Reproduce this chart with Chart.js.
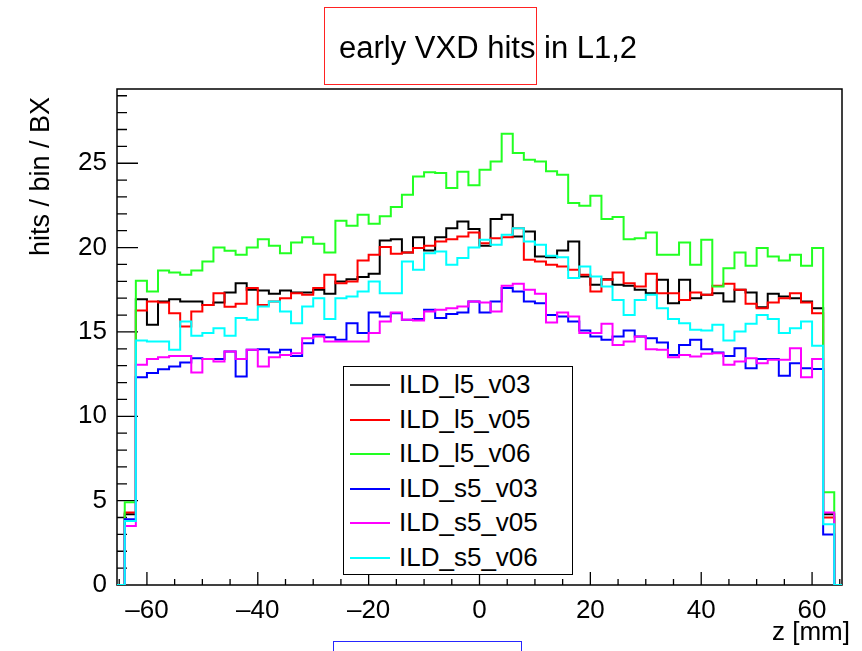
<!DOCTYPE html>
<html>
<head>
<meta charset="utf-8">
<script src="https://cdn.jsdelivr.net/npm/chart.js@4.4.1/dist/chart.umd.min.js"></script>
<style>
  html, body { margin: 0; padding: 0; background: #fff; }
  #wrap { position: relative; width: 862px; height: 651px; overflow: hidden; font-family: "Liberation Sans", Arial, sans-serif; color: #000; }
  #chart { position: absolute; left: 0; top: 0; }
  .txt { position: absolute; white-space: nowrap; line-height: 1; }
  #title { left: 339px; top: 32px; font-size: 31px; }
  #ytitle { left: 27px; top: 90px; font-size: 27px; transform-origin: 0 0; transform: translate(0, 166px) rotate(-90deg); }
  #xtitle { right: 12px; top: 618px; font-size: 26px; }
  #legend { position: absolute; left: 343px; top: 366px; width: 228px; height: 207px; border: 1.5px solid #000; background: #fff; }
  .row { position: absolute; left: 0; height: 34px; width: 100%; }
  .row .ln { position: absolute; left: 6px; top: 16px; width: 40px; height: 2px; }
  .row .lb { position: absolute; left: 55px; top: 3px; font-size: 26px; line-height: 1; }
  #redbox { position: absolute; left: 324px; top: 7px; width: 211px; height: 76px; border: 1px solid #f22; }
  #bluebox { position: absolute; left: 333px; top: 641px; width: 187px; height: 30px; border: 1px solid #2626ff; }
</style>
</head>
<body>
<div id="wrap">
  <canvas id="chart" width="862" height="651"></canvas>
  <div id="title" class="txt">early VXD hits in L1,2</div>
  <div id="ytitle" class="txt">hits / bin / BX</div>
  <div id="xtitle" class="txt">z [mm]</div>
  <div id="legend"></div>
  <div id="redbox"></div>
  <div id="bluebox"></div>
</div>
<script>
// Static data: 64 bins of 2 mm, first bin starts at -64 mm
const binStart = -64;
const binWidth = 2;

const ild_l5_v03 = [4.2, 16.94, 15.42, 16.8, 16.94, 16.8, 16.8, 16.6, 16.75, 17.34,
  17.89, 17.5, 17.46, 17.26, 17.46, 17.34, 17.34, 17.5, 17.26, 17.99,
  18.13, 18.25, 18.45, 20.42, 20.5, 19.71, 20.62, 19.83, 20.62, 21.15,
  21.55, 21.1, 20.11, 21.69, 21.95, 20.66, 20.96, 19.47, 19.43, 19.83,
  20.36, 18.29, 17.79, 18.13, 17.79, 17.74, 17.5, 17.3, 18.09, 16.7,
  18.09, 17.0, 17.2, 17.3, 16.8, 17.5, 17.34, 16.47, 17.26, 17.1,
  17.0, 16.8, 16.41, 4.2];

const ild_l5_v05 = [4.3, 16.27, 16.8, 16.74, 16.11, 15.32, 16.21, 16.6, 17.3, 16.5,
  16.67, 17.6, 16.6, 16.8, 17.0, 17.3, 17.2, 17.6, 18.39, 17.89,
  17.99, 19.24, 19.57, 20.03, 19.63, 19.71, 19.97, 20.11, 20.36, 20.5,
  20.66, 20.9, 20.26, 20.56, 20.62, 21.15, 19.28, 19.18, 18.98, 18.88,
  18.68, 18.39, 17.4, 18.09, 18.53, 17.89, 17.69, 18.45, 17.3, 17.3,
  16.9, 17.34, 17.2, 17.74, 17.86, 17.5, 16.67, 16.41, 16.74, 17.0,
  17.3, 16.74, 16.11, 4.0];

const ild_l5_v06 = [4.9, 18.03, 17.4, 18.64, 18.53, 18.39, 18.64, 19.18, 20.01, 19.81,
  19.57, 20.01, 20.5, 20.11, 19.67, 20.3, 20.62, 20.23, 19.71, 21.59,
  21.29, 21.95, 21.41, 21.85, 22.4, 23.13, 24.22, 24.46, 24.42, 23.53,
  24.49, 23.7, 24.62, 25.11, 26.75, 25.6, 25.21, 25.11, 24.52, 24.32,
  22.64, 22.48, 23.07, 21.69, 21.81, 20.5, 20.56, 20.9, 19.57, 19.57,
  20.3, 18.98, 20.46, 17.69, 18.78, 19.71, 18.92, 19.97, 19.47, 19.24,
  19.57, 18.92, 19.97, 5.5];

const ild_s5_v03 = [3.9, 12.32, 12.56, 12.79, 12.95, 13.19, 13.44, 13.39, 13.39, 13.84,
  12.36, 13.94, 13.98, 13.78, 13.94, 13.58, 14.33, 14.83, 14.69, 14.53,
  15.52, 14.93, 16.15, 15.92, 16.11, 15.72, 15.76, 16.31, 15.82, 16.07,
  16.15, 16.8, 16.15, 16.8, 17.6, 17.4, 16.8, 16.7, 16.0, 15.92,
  15.62, 15.09, 14.73, 14.53, 14.73, 15.09, 14.73, 14.63, 14.37, 13.64,
  14.23, 14.53, 13.98, 13.78, 13.58, 14.04, 12.85, 13.39, 13.39, 12.4,
  13.15, 12.85, 12.8, 3.0];

const ild_s5_v05 = [3.5, 13.05, 13.39, 13.5, 13.58, 13.58, 12.6, 13.39, 13.25, 13.84,
  13.39, 13.94, 12.95, 13.5, 13.64, 13.74, 14.63, 14.73, 14.43, 14.43,
  14.43, 14.43, 14.93, 15.62, 16.15, 15.72, 15.68, 16.21, 16.31, 16.41,
  16.51, 16.8, 16.74, 16.21, 17.74, 17.86, 17.5, 17.26, 15.56, 16.15,
  15.92, 14.93, 14.93, 15.48, 14.23, 14.43, 14.73, 13.98, 13.94, 13.5,
  13.64, 13.54, 13.7, 13.74, 13.05, 13.25, 13.44, 13.15, 13.35, 13.35,
  14.04, 12.32, 13.39, 4.3];

const ild_s5_v06 = [3.8, 14.49, 14.43, 14.43, 13.94, 15.62, 14.77, 14.93, 15.22, 14.77,
  15.82, 15.72, 16.51, 16.8, 16.21, 15.52, 16.51, 17.0, 15.76, 17.0,
  17.1, 17.4, 17.99, 17.3, 17.3, 19.18, 18.68, 19.67, 19.77, 18.98,
  19.38, 20.0, 20.46, 20.17, 20.76, 21.15, 20.36, 20.17, 19.51, 19.43,
  18.19, 18.88, 18.29, 17.69, 16.9, 16.0, 16.9, 17.2, 16.41, 15.76,
  15.52, 15.13, 15.09, 15.42, 14.49, 15.03, 15.48, 16.0, 15.76, 14.93,
  15.22, 15.62, 14.18, 3.6];

const seriesNames = ["ILD_l5_v03", "ILD_l5_v05", "ILD_l5_v06", "ILD_s5_v03", "ILD_s5_v05", "ILD_s5_v06"];
const seriesValues = [ild_l5_v03, ild_l5_v05, ild_l5_v06, ild_s5_v03, ild_s5_v05, ild_s5_v06];
const seriesColors = ["#000000", "#ff0000", "#22ff22", "#0000ff", "#ff00ff", "#00ffff"];

const xTickLabels = [-60, -40, -20, 0, 20, 40, 60];
const yTickLabels = [0, 5, 10, 15, 20, 25];
const xMin = -65.4, xMax = 65.4;
const yMin = 0, yMax = 29.4;

document.addEventListener("DOMContentLoaded", () => {
  // Histogram outline: each value held over its bin, zero outside the range
  function histPoints(values) {
    const pts = [{ x: xMin, y: 0 }];
    values.forEach((v, i) => pts.push({ x: binStart + i * binWidth, y: v }));
    const end = binStart + values.length * binWidth;
    pts.push({ x: end, y: 0 });
    pts.push({ x: xMax, y: 0 });
    return pts;
  }

  // Frame and inward ROOT-style ticks
  const framePlugin = {
    id: "frame",
    beforeDatasetsDraw(chart) {
      const { ctx, chartArea: a, scales } = chart;
      ctx.save();
      ctx.strokeStyle = "#000";
      ctx.lineWidth = 1.5;
      ctx.strokeRect(a.left, a.top, a.right - a.left, a.bottom - a.top);
      ctx.lineWidth = 1.3;
      ctx.beginPath();
      for (let v = -65; v <= 65; v += 5) {
        const px = scales.x.getPixelForValue(v);
        if (px <= a.left + 1 || px >= a.right - 1) continue;
        const len = v % 20 === 0 ? 13 : 6;
        ctx.moveTo(px, a.bottom);
        ctx.lineTo(px, a.bottom - len);
      }
      for (let v = 1; v <= 29; v++) {
        const py = scales.y.getPixelForValue(v);
        const len = v % 5 === 0 ? 21 : 10;
        ctx.moveTo(a.left, py);
        ctx.lineTo(a.left + len, py);
      }
      ctx.stroke();
      ctx.restore();
    },
  };

  const datasets = seriesValues.map((vals, i) => ({
    label: seriesNames[i],
    data: histPoints(vals),
    borderColor: seriesColors[i],
    borderWidth: 2,
    stepped: true,
    pointRadius: 0,
    fill: false,
    order: seriesValues.length - i,
  }));

  new Chart(document.getElementById("chart"), {
    type: "line",
    data: { datasets },
    options: {
      responsive: false,
      animation: false,
      layout: { padding: { left: 0, right: 20, top: 89, bottom: 0 } },
      plugins: { legend: { display: false }, tooltip: { enabled: false } },
      scales: {
        x: {
          type: "linear",
          min: xMin,
          max: xMax,
          grid: { display: false, drawTicks: false },
          border: { display: false },
          afterBuildTicks: (s) => { s.ticks = xTickLabels.map((v) => ({ value: v })); },
          afterFit: (s) => { s.height = 66; },
          ticks: {
            color: "#000",
            padding: 10,
            maxRotation: 0,
            font: { family: "Liberation Sans", size: 26 },
            callback: (v) => (v < 0 ? "\u2013" + Math.abs(v) : String(v)),
          },
        },
        y: {
          min: yMin,
          max: yMax,
          grid: { display: false, drawTicks: false },
          border: { display: false },
          afterBuildTicks: (s) => { s.ticks = yTickLabels.map((v) => ({ value: v })); },
          afterFit: (s) => { s.width = 117; },
          ticks: {
            color: "#000",
            padding: 10,
            font: { family: "Liberation Sans", size: 26 },
          },
        },
      },
    },
    plugins: [framePlugin],
  });

  // Legend box
  const legend = document.getElementById("legend");
  legend.innerHTML = seriesNames
    .map(
      (name, i) => `
      <div class="row" style="top:${i * 34.5 + 1}px">
        <div class="ln" style="background:${i === 0 ? "#333" : seriesColors[i]}"></div>
        <div class="lb">${name}</div>
      </div>`
    )
    .join("");
});
</script>
</body>
</html>
